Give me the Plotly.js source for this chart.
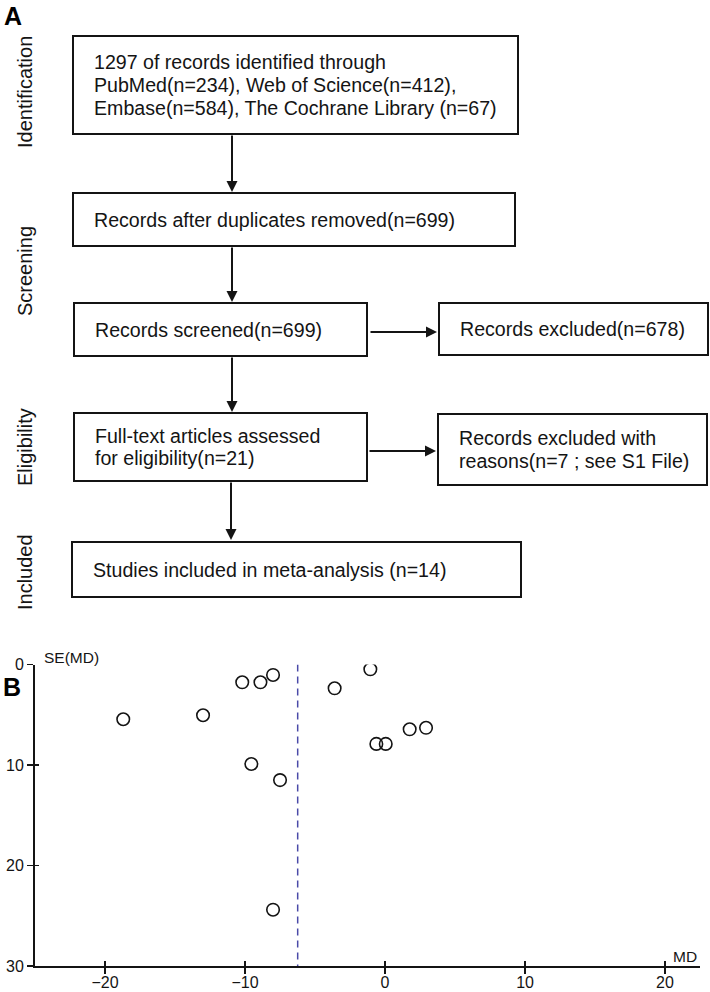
<!DOCTYPE html>
<html>
<head>
<meta charset="utf-8">
<script src="https://cdn.plot.ly/plotly-3.0.1.min.js"></script>
<style>html,body{margin:0;padding:0;background:#fff;}#chart{width:710px;height:992px;}</style>
</head>
<body>
<div id="chart"></div>
<script>
// ---------- Data (panel B: funnel plot) ----------
const studyMD = [-18.7, -13.0, -10.2, -8.9, -8.0, -3.6, -1.05, -0.62, 0.05, 1.76, 2.93, -9.55, -7.5, -8.0];
const studySE = [5.45, 5.05, 1.77, 1.77, 1.04, 2.37, 0.48, 7.9, 7.9, 6.45, 6.3, 9.9, 11.5, 24.4];
const pooledMD = -6.24;
const seSpan = [0, 30];
const xTickVals = [-20, -10, 0, 10, 20];
const yTickVals = [0, 10, 20, 30];
const xLabel = 'MD';
const yLabel = 'SE(MD)';

// ---------- Data (panel A: flow diagram text) ----------
const stageLabels = ['Identification', 'Screening', 'Eligibility', 'Included'];
const boxTexts = [
  ['1297 of records identified through', 'PubMed(n=234), Web of Science(n=412),', 'Embase(n=584), The Cochrane Library (n=67)'],
  ['Records after duplicates removed(n=699)'],
  ['Records screened(n=699)'],
  ['Records excluded(n=678)'],
  ['Full-text articles assessed', 'for eligibility(n=21)'],
  ['Records excluded with', 'reasons(n=7 ; see S1 File)'],
  ['Studies included in meta-analysis (n=14)']
];
const panelLabels = ['A', 'B'];

// ---------- Layout geometry (pixels) ----------
const W = 710, H = 992;
const X = p => p / W;
const Y = p => 1 - p / H;
const FONT = 'Liberation Sans, Arial, Helvetica, sans-serif';

const boxGeom = [
  {x0: 73, x1: 518, y0: 36, y1: 134},
  {x0: 73, x1: 515, y0: 193, y1: 246},
  {x0: 74, x1: 367, y0: 303, y1: 356},
  {x0: 439, x1: 708, y0: 303, y1: 355},
  {x0: 74, x1: 367, y0: 413, y1: 481},
  {x0: 438, x1: 707, y0: 414, y1: 485},
  {x0: 72, x1: 521, y0: 542, y1: 597}
];
const stageGeom = [{x: 25, y: 92}, {x: 25, y: 271}, {x: 25, y: 447}, {x: 25, y: 572}];
const arrowGeom = [
  {x0: 232, y0: 134, x1: 232, y1: 192},
  {x0: 232, y0: 246, x1: 232, y1: 302},
  {x0: 232, y0: 356, x1: 232, y1: 412},
  {x0: 231, y0: 481, x1: 231, y1: 540},
  {x0: 369, y0: 332, x1: 437, y1: 332},
  {x0: 368, y0: 451, x1: 436, y1: 451}
];
const LINE_H = 22.5;
const TEXT_PAD = 19;

const shapes = [];
const annotations = [];

boxGeom.forEach((b, i) => {
  shapes.push({type: 'rect', xref: 'paper', yref: 'paper',
    x0: X(b.x0), x1: X(b.x1), y0: Y(b.y1), y1: Y(b.y0),
    line: {color: '#141414', width: 2}, fillcolor: 'rgba(0,0,0,0)'});
  const lines = boxTexts[i];
  const cy = (b.y0 + b.y1) / 2;
  lines.forEach((t, k) => {
    const ly = cy + (k - (lines.length - 1) / 2) * LINE_H;
    annotations.push({xref: 'paper', yref: 'paper', x: X(b.x0 + TEXT_PAD), y: Y(ly),
      xanchor: 'left', yanchor: 'middle', showarrow: false, text: t,
      font: {family: FONT, size: 19.6, color: '#141414'}});
  });
});

stageLabels.forEach((t, i) => {
  annotations.push({xref: 'paper', yref: 'paper', x: X(stageGeom[i].x), y: Y(stageGeom[i].y),
    xanchor: 'center', yanchor: 'middle', showarrow: false, text: t, textangle: -90,
    font: {family: FONT, size: 20, color: '#141414'}});
});

arrowGeom.forEach(a => {
  annotations.push({xref: 'paper', yref: 'paper', x: X(a.x1), y: Y(a.y1),
    axref: 'pixel', ayref: 'pixel', ax: a.x0 - a.x1, ay: a.y0 - a.y1,
    showarrow: true, arrowhead: 2, arrowsize: 1.1, arrowwidth: 2, arrowcolor: '#141414',
    standoff: 0, startstandoff: 0, text: ''});
});

annotations.push({xref: 'paper', yref: 'paper', x: X(2), y: Y(0), xanchor: 'left', yanchor: 'top',
  showarrow: false, text: '<b>' + panelLabels[0] + '</b>', font: {family: FONT, size: 25, color: '#000'}});
annotations.push({xref: 'paper', yref: 'paper', x: X(1), y: Y(687), xanchor: 'left', yanchor: 'middle',
  showarrow: false, text: '<b>' + panelLabels[1] + '</b>', font: {family: FONT, size: 25, color: '#000'}});

annotations.push({xref: 'paper', yref: 'paper', x: X(42), y: Y(657), xanchor: 'left', yanchor: 'middle',
  showarrow: false, text: yLabel, font: {family: FONT, size: 15.5, color: '#141414'}});
annotations.push({xref: 'paper', yref: 'paper', x: X(671), y: Y(956), xanchor: 'left', yanchor: 'middle',
  showarrow: false, text: xLabel, font: {family: FONT, size: 15.5, color: '#141414'}});

const xDomain = [X(34.5), X(700)];
const yDomain = [Y(966), Y(664.5)];
const xRange = [-25.04, 22.5];
const yRange = [30, 0];

const traces = [
  {type: 'scatter', mode: 'markers', x: studyMD, y: studySE, xaxis: 'x', yaxis: 'y',
    marker: {symbol: 'circle-open', size: 12.5, color: '#141414', line: {width: 1.6, color: '#141414'}},
    hoverinfo: 'x+y', showlegend: false},
  {type: 'scatter', mode: 'lines', x: [pooledMD, pooledMD], y: seSpan, xaxis: 'x2', yaxis: 'y2',
    line: {color: '#4a4aa8', width: 1.5, dash: '7px,5px'}, hoverinfo: 'skip', showlegend: false}
];

const baseAxis = {showgrid: false, zeroline: false, fixedrange: true};

const layout = {
  width: W, height: H,
  margin: {l: 0, r: 0, t: 0, b: 0},
  paper_bgcolor: '#fff', plot_bgcolor: 'rgba(0,0,0,0)',
  showlegend: false,
  font: {family: FONT, color: '#141414'},
  xaxis: Object.assign({}, baseAxis, {domain: xDomain, range: xRange, anchor: 'y',
    showline: true, linecolor: '#141414', linewidth: 1.5,
    ticks: 'outside', ticklen: 6, tickwidth: 1.3, tickcolor: '#141414', ticklabelstandoff: -5,
    tickmode: 'array', tickvals: xTickVals, tickfont: {family: FONT, size: 16, color: '#141414'}}),
  yaxis: Object.assign({}, baseAxis, {domain: yDomain, range: yRange, anchor: 'x',
    showline: true, linecolor: '#141414', linewidth: 1.5,
    ticks: 'outside', ticklen: 6, tickwidth: 1.3, tickcolor: '#141414',
    tickmode: 'array', tickvals: yTickVals, tickfont: {family: FONT, size: 16, color: '#141414'}}),
  xaxis2: Object.assign({}, baseAxis, {overlaying: 'x', anchor: 'y2', side: 'bottom', range: xRange,
    showline: false, ticks: 'inside', ticklen: 5, tickwidth: 1.3, tickcolor: '#141414',
    tickmode: 'array', tickvals: xTickVals, showticklabels: false}),
  yaxis2: Object.assign({}, baseAxis, {overlaying: 'y', anchor: 'x2', side: 'left', range: yRange,
    showline: false, ticks: 'inside', ticklen: 4, tickwidth: 1.3, tickcolor: '#141414',
    tickmode: 'array', tickvals: yTickVals, showticklabels: false}),
  shapes: shapes,
  annotations: annotations
};

Plotly.newPlot('chart', traces, layout, {displayModeBar: false, staticPlot: true});
</script>
</body>
</html>
